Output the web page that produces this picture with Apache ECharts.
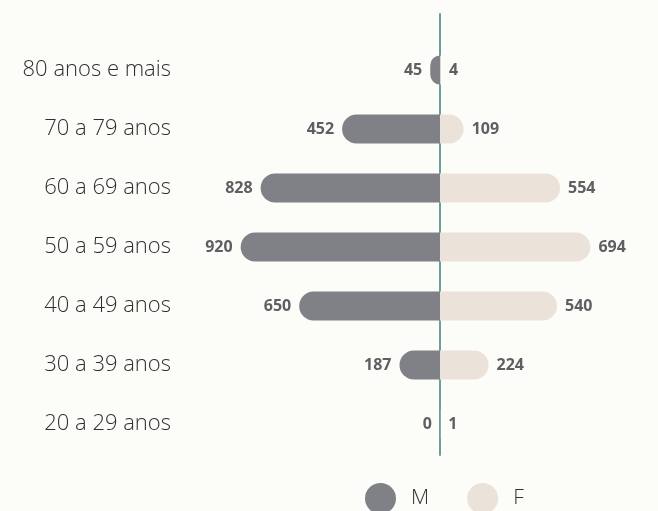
<!DOCTYPE html>
<html>
<head>
<meta charset="utf-8">
<script src="https://cdn.jsdelivr.net/npm/echarts@6/dist/echarts.min.js"></script>
<style>
  html, body { margin: 0; padding: 0; background: #fcfcf8; }
  #chart { width: 658px; height: 511px; }
</style>
</head>
<body>
<div id="chart"></div>
<script>
// Age groups, top to bottom
const ageGroups = ['80 anos e mais', '70 a 79 anos', '60 a 69 anos', '50 a 59 anos', '40 a 49 anos', '30 a 39 anos', '20 a 29 anos'];
// Counts per age group
const maleValues = [45, 452, 828, 920, 650, 187, 0];
const femaleValues = [4, 109, 554, 694, 540, 224, 1];
const seriesNames = ['M', 'F'];

const AXIS_MIN = -1200;
const AXIS_MAX = 1000;
const TEXT_FONT = '"Open Sans", Lato, sans-serif';
const NUM_FONT = '"Open Sans", Lato, sans-serif';

const valueLabel = (pos) => ({
  show: true,
  position: pos,
  distance: 8,
  fontFamily: NUM_FONT,
  fontWeight: 'bold',
  fontSize: 16,
  color: '#5e5f63',
  formatter: (p) => String(Math.abs(p.value))
});

const chart = echarts.init(document.getElementById('chart'));
chart.setOption({
  backgroundColor: '#fcfcf8',
  animation: false,
  legend: {
    data: seriesNames,
    left: 360,
    top: 478,
    icon: 'circle',
    itemWidth: 31,
    itemHeight: 31,
    itemGap: 38,
    textStyle: { fontFamily: TEXT_FONT, fontWeight: 300, fontSize: 21, color: '#333', padding: [0, 0, 0, 10] }
  },
  grid: [
    { left: 180, right: 1.3, top: 40.5, height: 413 },
    // holds the centre divider, which runs a little above the bars
    { left: 180, right: 1.3, top: 14, bottom: 56 }
  ],
  xAxis: [
    { type: 'value', gridIndex: 0, min: AXIS_MIN, max: AXIS_MAX, show: false },
    { type: 'value', gridIndex: 1, min: AXIS_MIN, max: AXIS_MAX, show: false }
  ],
  yAxis: [
    {
      type: 'category',
      gridIndex: 0,
      data: ageGroups,
      inverse: true,
      axisLine: { show: false, onZero: false },
      axisTick: { show: false },
      axisLabel: { margin: 9, fontFamily: TEXT_FONT, fontWeight: 300, fontSize: 22, color: '#2f2f2f' }
    },
    {
      type: 'category',
      gridIndex: 1,
      data: [''],
      axisLine: { show: true, onZero: true, lineStyle: { color: '#6a9f9b', width: 2 } },
      axisTick: { show: false },
      axisLabel: { show: false }
    }
  ],
  series: [
    {
      name: 'M',
      type: 'bar',
      xAxisIndex: 0,
      yAxisIndex: 0,
      data: maleValues.map(v => -v),
      barWidth: 29,
      barGap: '-100%',
      itemStyle: { color: '#7f8186', borderRadius: [15, 0, 0, 15] },
      label: valueLabel('left'),
      z: 2
    },
    {
      name: 'F',
      type: 'bar',
      xAxisIndex: 0,
      yAxisIndex: 0,
      data: femaleValues,
      barWidth: 29,
      barGap: '-100%',
      itemStyle: { color: '#ebe3da', borderRadius: [0, 15, 15, 0] },
      label: valueLabel('right'),
      z: 2
    }
  ]
});
</script>
</body>
</html>
